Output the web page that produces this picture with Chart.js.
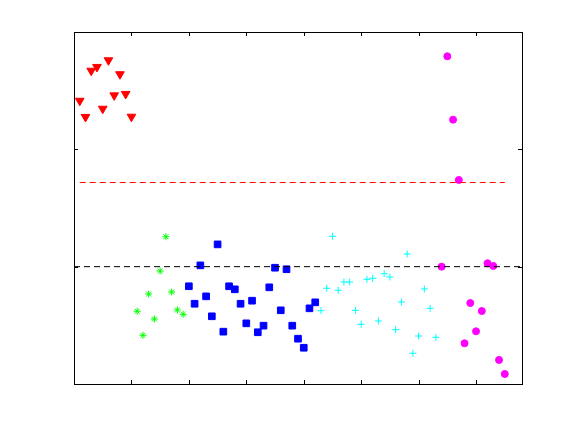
<!DOCTYPE html>
<html lang="en">
<head>
    <meta charset="UTF-8">
    <title>Scores</title>
    <script src="https://cdn.jsdelivr.net/npm/chart.js"></script>
    <style>
        body { margin: 0; background: #fff; }
        #wrap { width: 577px; height: 432px; }
    </style>
</head>
<body>
    <div id="wrap"><canvas id="scoreChart"></canvas></div>
    <script>
        // sample index -> score, one pair of arrays per group
        const redX = [1, 2, 3, 4, 5, 6, 7, 8, 9, 10];
        const redY = [1.414, 1.276, 1.670, 1.702, 1.346, 1.759, 1.460, 1.640, 1.472, 1.278];

        const greenX = [11, 12, 13, 14, 15, 16, 17, 18, 19];
        const greenY = [-0.380, -0.585, -0.233, -0.446, -0.037, 0.255, -0.216, -0.369, -0.406];

        const blueX = [20, 21, 22, 23, 24, 25, 26, 27, 28, 29, 30, 31, 32, 33, 34, 35, 36, 37, 38, 39, 40, 41, 42];
        const blueY = [-0.167, -0.316, 0.011, -0.253, -0.423, 0.190, -0.554, -0.167, -0.193, -0.316, -0.483, -0.290,
                       -0.559, -0.503, -0.176, -0.009, -0.372, -0.022, -0.503, -0.614, -0.691, -0.355, -0.304];

        const cyanX = [43, 44, 45, 46, 47, 48, 49, 50, 51, 52, 53, 54, 55, 56, 57, 58, 59, 60, 61, 62, 63];
        const cyanY = [-0.375, -0.184, 0.259, -0.201, -0.131, -0.131, -0.372, -0.491, -0.108, -0.099, -0.463,
                       -0.060, -0.088, -0.537, -0.301, 0.108, -0.738, -0.591, -0.190, -0.355, -0.602];

        const magentaX = [64, 65, 66, 67, 68, 69, 70, 71, 72, 73, 74, 75];
        const magentaY = [0.000, 1.793, 1.253, 0.739, -0.653, -0.310, -0.551, -0.378, 0.029, 0.006, -0.795, -0.915];

        // horizontal reference lines
        const zeroLineX = [0, 78];
        const zeroLineY = [0, 0];
        const limitLineX = [1, 75];
        const limitLineY = [0.717, 0.717];

        const xTicks = [10, 20, 30, 40, 50, 60, 70];
        const yTicks = [0, 1];

        const pts = (xs, ys) => xs.map((x, i) => ({ x: x, y: ys[i] }));

        function scatterSet(xs, ys, color, style, radius, rotation) {
            return {
                type: 'scatter',
                data: pts(xs, ys),
                pointStyle: style,
                pointRadius: radius,
                pointRotation: rotation || 0,
                backgroundColor: color,
                borderColor: color,
                borderWidth: 1,
                showLine: false
            };
        }

        // box with inward tick marks, like the original figure
        const frame = {
            id: 'frame',
            afterDraw(chart) {
                const { ctx, chartArea: a, scales } = chart;
                ctx.save();
                ctx.strokeStyle = '#000';
                ctx.lineWidth = 1;
                ctx.strokeRect(a.left + 0.5, a.top + 0.5, a.right - a.left, a.bottom - a.top);
                ctx.beginPath();
                xTicks.forEach(t => {
                    const px = Math.round(scales.x.getPixelForValue(t)) + 0.5;
                    ctx.moveTo(px, a.bottom); ctx.lineTo(px, a.bottom - 4);
                    ctx.moveTo(px, a.top); ctx.lineTo(px, a.top + 4);
                });
                yTicks.forEach(t => {
                    const py = Math.round(scales.y.getPixelForValue(t)) + 0.5;
                    ctx.moveTo(a.left, py); ctx.lineTo(a.left + 4, py);
                    ctx.moveTo(a.right, py); ctx.lineTo(a.right - 4, py);
                });
                ctx.stroke();
                ctx.restore();
            }
        };

        const ctx = document.getElementById('scoreChart').getContext('2d');
        new Chart(ctx, {
            data: {
                datasets: [
                    {
                        type: 'line',
                        data: pts(zeroLineX, zeroLineY),
                        borderColor: '#000',
                        borderWidth: 1,
                        borderDash: [6, 4],
                        pointRadius: 0,
                        fill: false
                    },
                    {
                        type: 'line',
                        data: pts(limitLineX, limitLineY),
                        borderColor: '#ff0000',
                        borderWidth: 1,
                        borderDash: [6, 4],
                        pointRadius: 0,
                        fill: false
                    },
                    scatterSet(redX, redY, '#ff0000', 'triangle', 5, 180),
                    scatterSet(greenX, greenY, '#00ff00', 'star', 3.5),
                    scatterSet(blueX, blueY, '#0000ff', 'rect', 4.7),
                    scatterSet(cyanX, cyanY, '#00ffff', 'cross', 3.5),
                    scatterSet(magentaX, magentaY, '#ff00ff', 'circle', 3.5)
                ]
            },
            options: {
                responsive: true,
                maintainAspectRatio: false,
                animation: false,
                layout: { padding: { left: 74, right: 55, top: 32, bottom: 48 } },
                plugins: { legend: { display: false }, tooltip: { enabled: false } },
                scales: {
                    x: {
                        type: 'linear',
                        min: 0,
                        max: 78,
                        ticks: { display: false, stepSize: 10 },
                        grid: { display: false },
                        border: { display: false },
                        afterFit: s => { s.height = 0; }
                    },
                    y: {
                        type: 'linear',
                        min: -1,
                        max: 2,
                        ticks: { display: false, stepSize: 1 },
                        grid: { display: false },
                        border: { display: false },
                        afterFit: s => { s.width = 0; }
                    }
                }
            },
            plugins: [frame]
        });
    </script>
</body>
</html>
